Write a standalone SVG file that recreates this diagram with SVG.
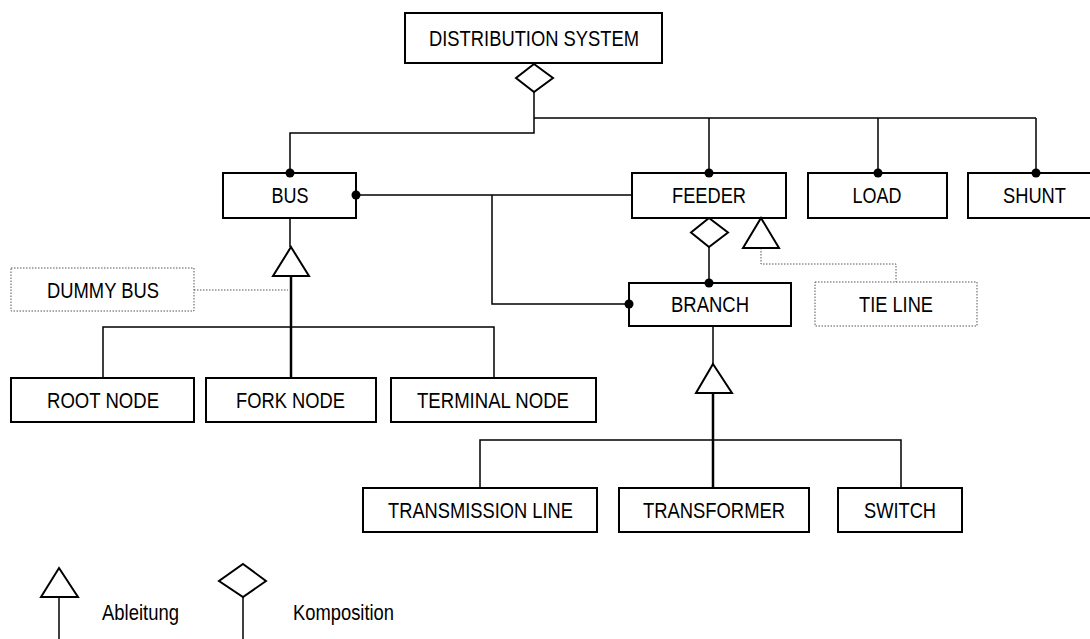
<svg xmlns="http://www.w3.org/2000/svg" width="1090" height="639" viewBox="0 0 1090 639">
  <style>
    .box { fill: #fff; stroke: #000; stroke-width: 2; }
    .ghost { fill: #fff; stroke: #555; stroke-width: 1; stroke-dasharray: 1.5 1.5; }
    .lbl { font-family: "Liberation Sans", Arial, sans-serif; font-size: 22px; fill: #000; text-anchor: middle; }
    .leg { font-family: "Liberation Sans", Arial, sans-serif; font-size: 22px; fill: #000; }
    .wire { fill: none; stroke: #000; stroke-width: 1.5; }
    .thick { fill: none; stroke: #000; stroke-width: 2.5; }
    .dot-line { fill: none; stroke: #555; stroke-width: 1; stroke-dasharray: 1.5 1.5; }
    .head { fill: #fff; stroke: #000; stroke-width: 2; stroke-linejoin: miter; }
    .pin { fill: #000; }
  </style>

  <!-- nodes -->
  <g id="distribution-system">
    <rect class="box" x="405" y="13" width="257" height="50"/>
    <text class="lbl" x="534" y="46" textLength="210" lengthAdjust="spacingAndGlyphs">DISTRIBUTION SYSTEM</text>
  </g>
  <g id="bus">
    <rect class="box" x="223" y="173" width="133" height="45"/>
    <text class="lbl" x="290" y="203" textLength="37" lengthAdjust="spacingAndGlyphs">BUS</text>
  </g>
  <g id="feeder">
    <rect class="box" x="632" y="173" width="154" height="45"/>
    <text class="lbl" x="709" y="203" textLength="74" lengthAdjust="spacingAndGlyphs">FEEDER</text>
  </g>
  <g id="load">
    <rect class="box" x="808" y="173" width="139" height="45"/>
    <text class="lbl" x="877" y="203" textLength="49" lengthAdjust="spacingAndGlyphs">LOAD</text>
  </g>
  <g id="shunt">
    <rect class="box" x="968" y="173" width="132" height="45"/>
    <text class="lbl" x="1034.5" y="203" textLength="63" lengthAdjust="spacingAndGlyphs">SHUNT</text>
  </g>
  <g id="dummy-bus">
    <rect class="ghost" x="11" y="268" width="183" height="43"/>
    <text class="lbl" x="103" y="297.5" textLength="112" lengthAdjust="spacingAndGlyphs">DUMMY BUS</text>
  </g>
  <g id="branch">
    <rect class="box" x="629" y="283" width="162" height="43"/>
    <text class="lbl" x="710" y="312" textLength="78" lengthAdjust="spacingAndGlyphs">BRANCH</text>
  </g>
  <g id="tie-line">
    <rect class="ghost" x="815" y="282" width="162" height="44"/>
    <text class="lbl" x="896" y="312" textLength="74" lengthAdjust="spacingAndGlyphs">TIE LINE</text>
  </g>
  <g id="root-node">
    <rect class="box" x="11" y="378" width="183" height="44"/>
    <text class="lbl" x="103" y="408" textLength="112" lengthAdjust="spacingAndGlyphs">ROOT NODE</text>
  </g>
  <g id="fork-node">
    <rect class="box" x="206" y="378" width="170" height="44"/>
    <text class="lbl" x="290.5" y="408" textLength="109" lengthAdjust="spacingAndGlyphs">FORK NODE</text>
  </g>
  <g id="terminal-node">
    <rect class="box" x="391" y="378" width="205" height="44"/>
    <text class="lbl" x="493" y="408" textLength="152" lengthAdjust="spacingAndGlyphs">TERMINAL NODE</text>
  </g>
  <g id="transmission-line">
    <rect class="box" x="363" y="488" width="234" height="44"/>
    <text class="lbl" x="480.5" y="518" textLength="185" lengthAdjust="spacingAndGlyphs">TRANSMISSION LINE</text>
  </g>
  <g id="transformer">
    <rect class="box" x="619" y="488" width="190" height="44"/>
    <text class="lbl" x="714" y="518" textLength="142" lengthAdjust="spacingAndGlyphs">TRANSFORMER</text>
  </g>
  <g id="switch">
    <rect class="box" x="838" y="488" width="124" height="44"/>
    <text class="lbl" x="900" y="518" textLength="72" lengthAdjust="spacingAndGlyphs">SWITCH</text>
  </g>

  <!-- connectors (drawn after the boxes so the end dots sit on top) -->
  <g id="connectors">
    <!-- composition: distribution system -> parts -->
    <polyline class="wire" points="534,92 534,133 290,133 290,173"/>
    <polyline class="wire" points="534,118 1036,118"/>
    <line class="wire" x1="709" y1="118" x2="709" y2="173"/>
    <line class="wire" x1="878" y1="118" x2="878" y2="173"/>
    <line class="wire" x1="1036" y1="118" x2="1036" y2="173"/>
    <polygon class="head" points="534,64 553,78 534,92 516,78"/>
    <circle class="pin" cx="290" cy="173" r="4.5"/>
    <circle class="pin" cx="709" cy="173" r="4.5"/>
    <circle class="pin" cx="878" cy="173" r="4.5"/>
    <circle class="pin" cx="1036" cy="173" r="4.5"/>

    <!-- bus association to feeder and branch -->
    <line class="wire" x1="356" y1="195" x2="632" y2="195"/>
    <polyline class="wire" points="492,195 492,304 629,304"/>
    <circle class="pin" cx="356" cy="195" r="4.5"/>
    <circle class="pin" cx="629" cy="304" r="4.5"/>

    <!-- bus specialisation -->
    <line class="wire" x1="290" y1="218" x2="290" y2="247"/>
    <polygon class="head" points="291,247 309,276 273,276"/>
    <line class="thick" x1="291" y1="276" x2="291" y2="378"/>
    <polyline class="wire" points="103,378 103,327 494,327 494,378"/>
    <line class="dot-line" x1="194" y1="290" x2="288" y2="290"/>

    <!-- feeder composition of branch -->
    <line class="wire" x1="709" y1="247" x2="709" y2="283"/>
    <polygon class="head" points="709,218 728,232.5 709,247 691,232.5"/>
    <circle class="pin" cx="709" cy="283" r="4.5"/>

    <!-- feeder specialisation (tie line) -->
    <polyline class="dot-line" points="761,248 761,264 896,264 896,282"/>
    <polygon class="head" points="761,218 779,248 743,248"/>

    <!-- branch specialisation -->
    <line class="wire" x1="713" y1="326" x2="713" y2="364"/>
    <polygon class="head" points="713,364 732,393 696,393"/>
    <line class="thick" x1="713" y1="393" x2="713" y2="488"/>
    <polyline class="wire" points="480,488 480,440 901,440 901,488"/>
  </g>

  <!-- legend -->
  <g id="legend">
    <line class="wire" x1="59" y1="597" x2="59" y2="639"/>
    <polygon class="head" points="59,568 78,597 41,597"/>
    <text class="leg" x="102" y="620" textLength="77" lengthAdjust="spacingAndGlyphs">Ableitung</text>
    <line class="wire" x1="243" y1="597" x2="243" y2="639"/>
    <polygon class="head" points="243,564 266,581 243,597 219,581"/>
    <text class="leg" x="293" y="620" textLength="101" lengthAdjust="spacingAndGlyphs">Komposition</text>
  </g>
</svg>
